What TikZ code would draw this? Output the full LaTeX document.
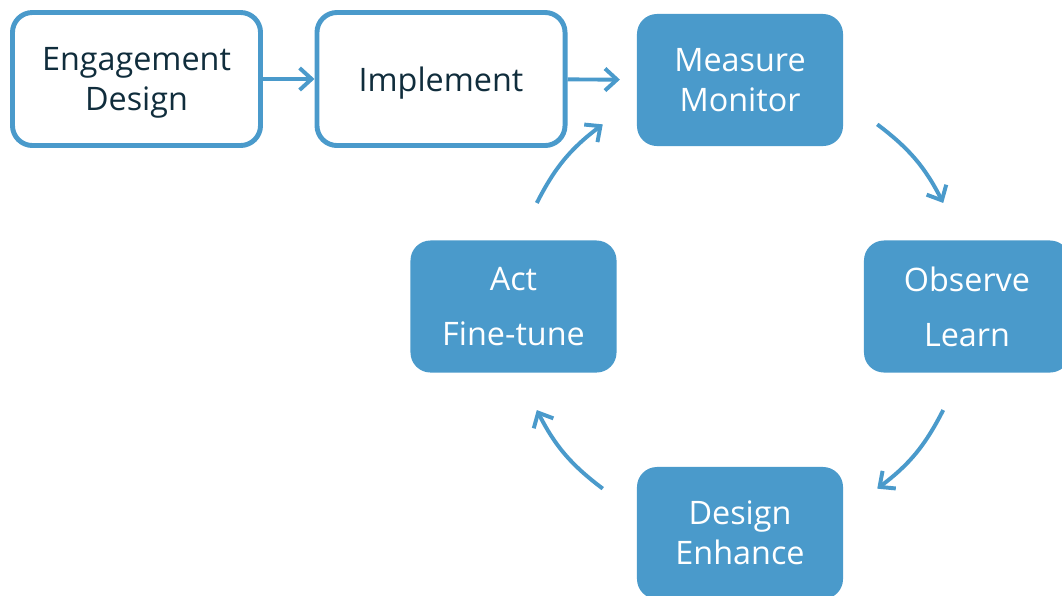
\documentclass[tikz,border=0pt]{standalone}
\usepackage{fontspec}
\setmainfont{Open Sans}
\usetikzlibrary{calc}
\usetikzlibrary{arrows.meta}
\definecolor{cycle blue}{RGB}{74,154,203}
\definecolor{ink}{RGB}{16,45,60}
\tikzset{
    % Open barbed heads, used on every connector
    >={Straight Barb[length=3mm, width=5.5mm]},
%
    % Common shape for all of the step boxes
    step box/.style={
        rectangle, rounded corners=5mm, align=center, text depth=0pt,
        font=\fontsize{23}{28.45}\selectfont},
%
    % Hollow box for the lead-in steps
    lead box/.style={
        step box, draw=cycle blue, line width=3.5pt, text=ink,
        minimum width=6.2cm, minimum height=3.325cm},
%
    % Solid box for the steps within the cycle
    cycle box/.style={
        step box, fill=cycle blue, text=white,
        minimum width=5.15cm, minimum height=3.3cm},
%
    % Connector lines
    flow/.style={->, draw=cycle blue, line width=2.8pt}}

\begin{document}
\begin{tikzpicture}[x=0.025cm, y=-0.025cm]
\useasboundingbox (0,0) rectangle (1062,595);
\clip (0,0) rectangle (1062,595);

% Lead-in steps along the top
\path
    node[lead box] (engagement) at (136.5,79) {Engagement\\Design}
    node[lead box] (implement) at (441,79) {Implement};

\draw[flow] (engagement) -- (implement);

% The four steps of the cycle, set round a common hub
\coordinate (hub) at (740,306.5);
\path
    node[cycle box] (measure) at (740,80) {Measure\\Monitor}
    node[cycle box] (observe) at (967,306.5) {Observe\\[3.75mm]Learn}
    node[cycle box] (design) at (740,533) {Design\\Enhance}
    node[cycle box] (act) at (513.5,306.5) {Act\\[3.75mm]Fine-tune};

\draw[flow, shorten >=4.2mm] (implement) -- (measure);

% Curved connectors all lie on one circle about the hub
\foreach \step/\next/\a/\b in {measure/observe/53/27, observe/design/-27/-53,
        design/act/-127/-153, act/measure/153/127} {
    \coordinate (\step-leave) at ($(hub)+(\a:5.7cm)$);
    \coordinate (\next-reach) at ($(hub)+(\b:5.7cm)$);
    \draw[flow] (\step-leave) to[bend left=13] (\next-reach);
}

\end{tikzpicture}
\end{document}
